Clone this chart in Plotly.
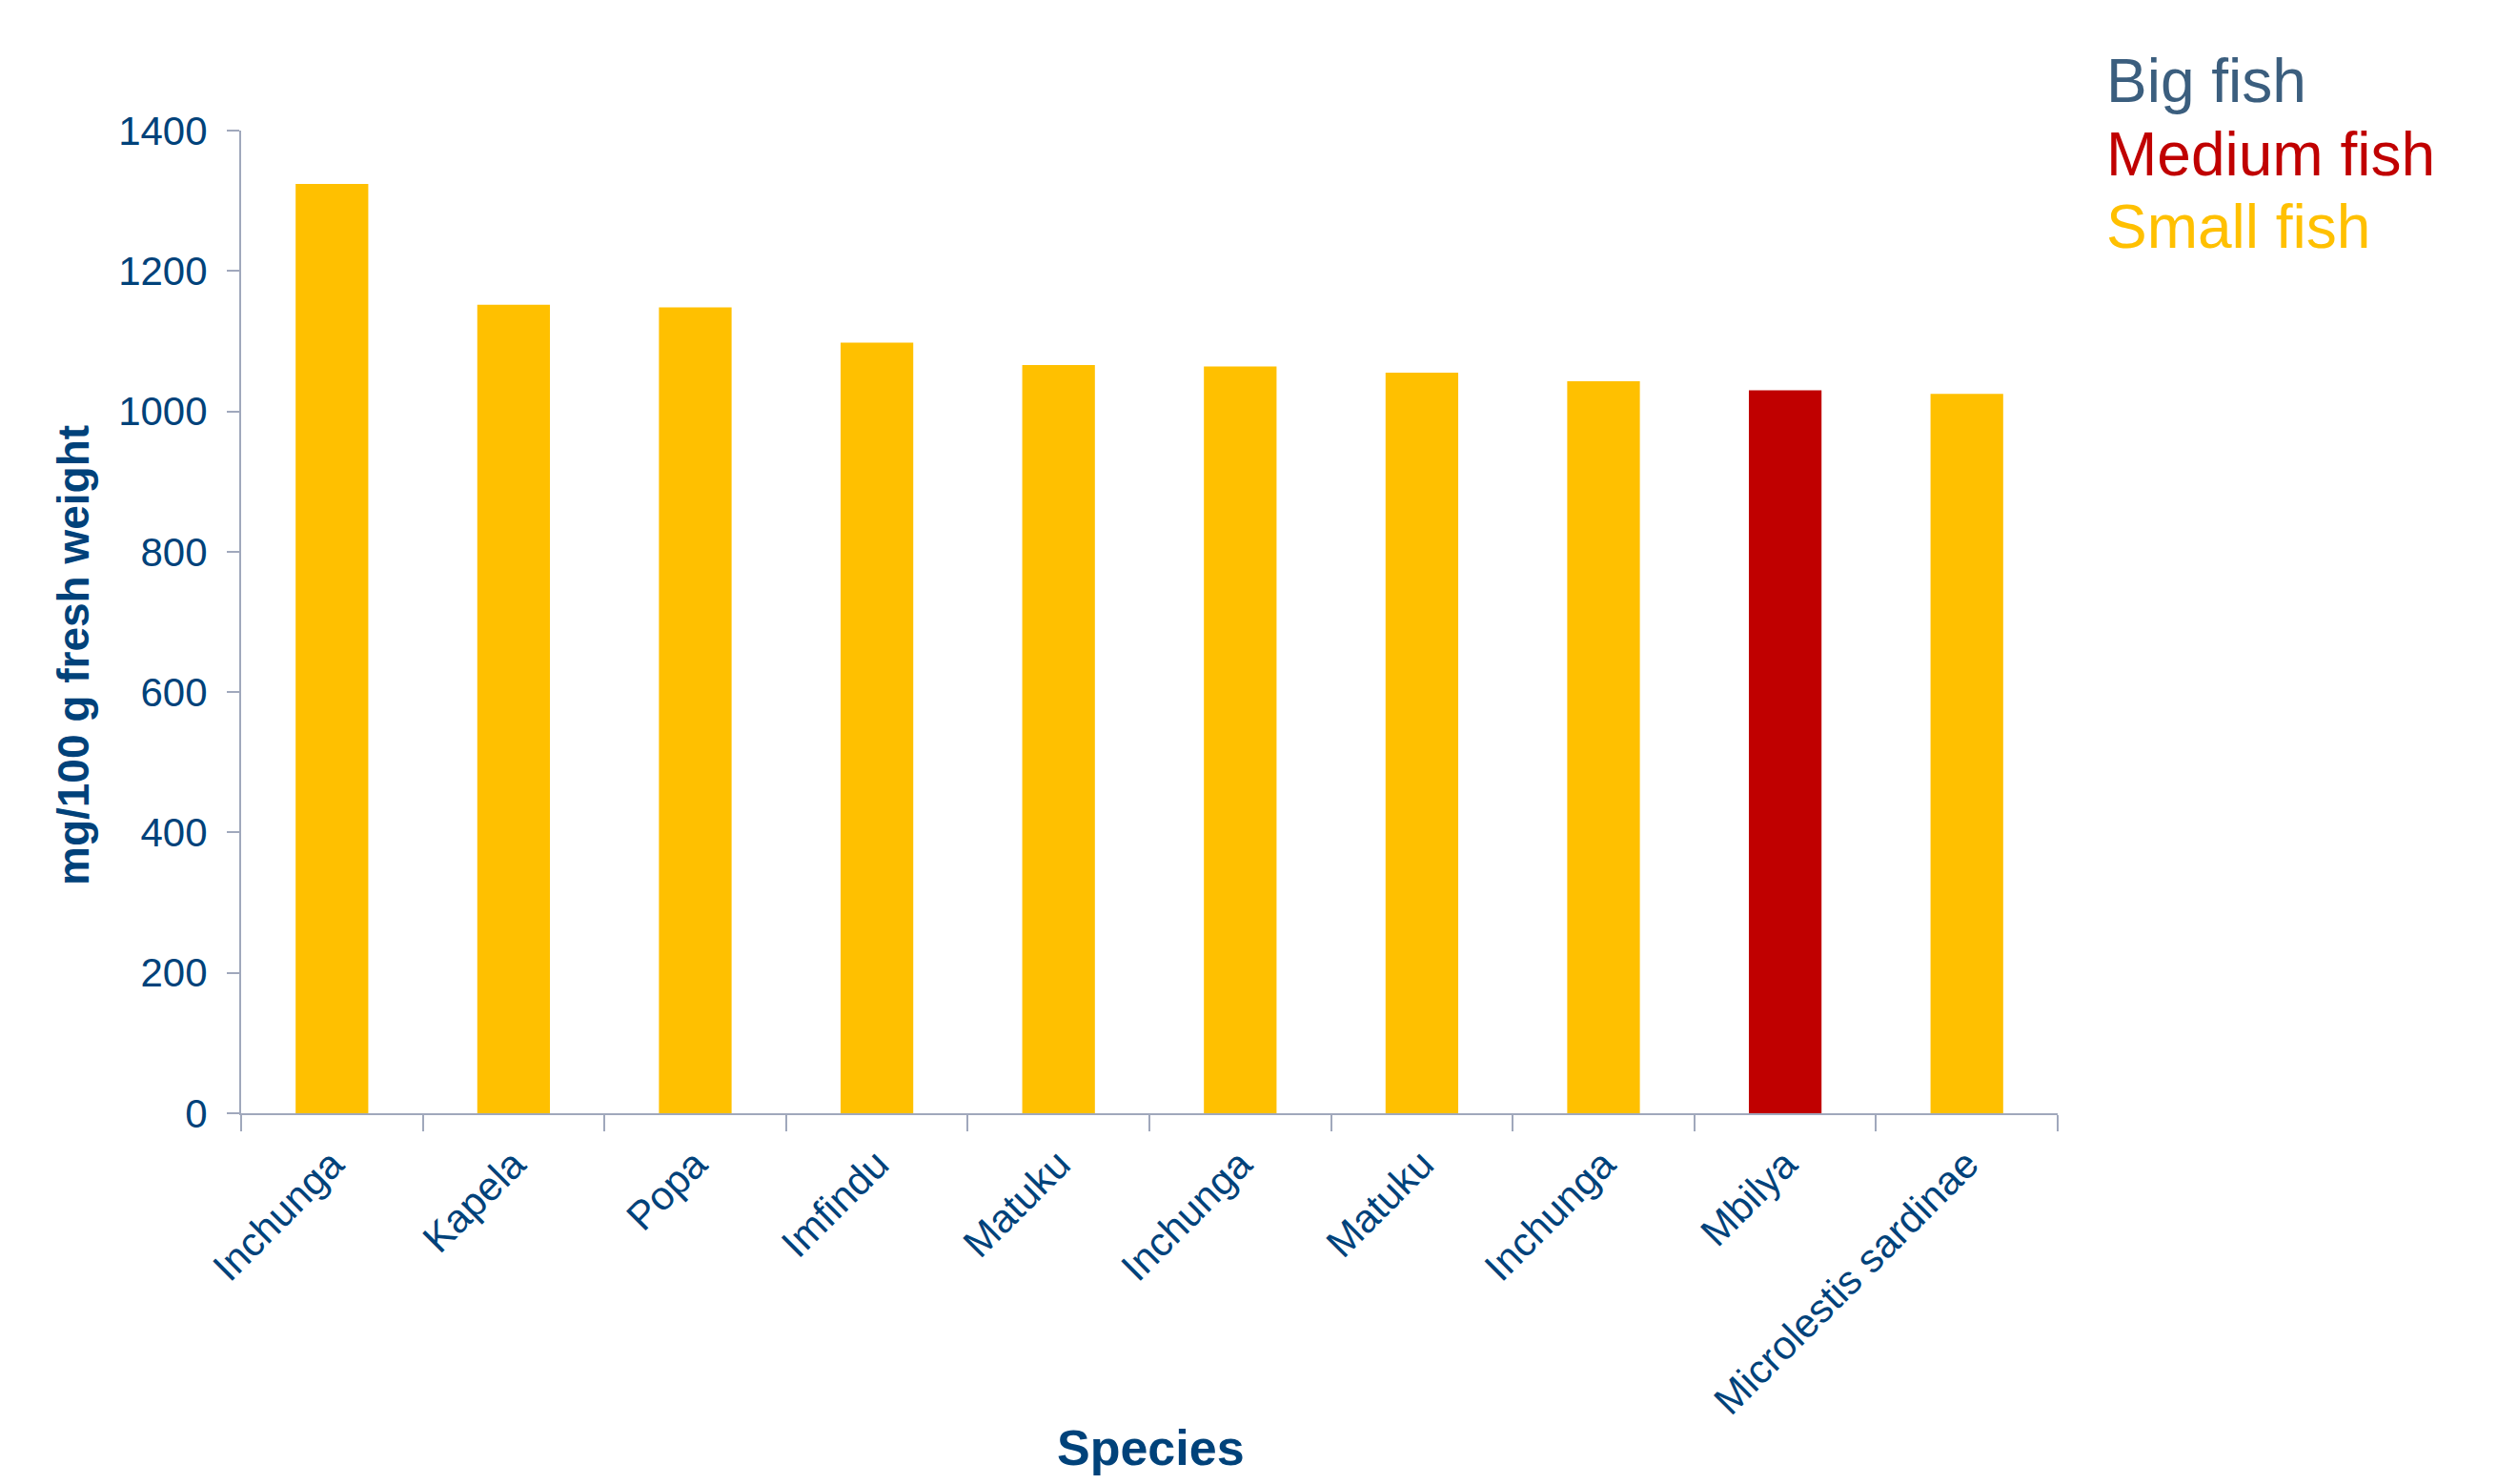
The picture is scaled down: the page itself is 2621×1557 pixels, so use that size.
import plotly.graph_objects as go

# ---- data ----
species = ["Inchunga", "Kapela", "Popa", "Imfindu", "Matuku",
           "Inchunga", "Matuku", "Inchunga", "Mbilya", "Microlestis sardinae"]
values = [1324, 1152, 1148, 1098, 1066, 1064, 1055, 1043, 1030, 1025]
size_group = ["Small", "Small", "Small", "Small", "Small",
              "Small", "Small", "Small", "Medium", "Small"]
legend_labels = ["Big fish", "Medium fish", "Small fish"]
group_colors = {"Big": "#3B5E7E", "Medium": "#C00000", "Small": "#FFC000"}
y_ticks = [0, 200, 400, 600, 800, 1000, 1200, 1400]

# ---- layout constants (pixels) ----
W, H = 2621, 1557
L, R = 253, 2159          # plot area left/right
T, B = 137, 1168          # plot area top/bottom
TEXT = "#00427A"
AXIS = "#A0A8BC"
FONT = "Liberation Sans, Arial, sans-serif"

def px_x(x):
    return (x - L) / (R - L)

def px_y(y):
    return (B - y) / (B - T)

# unique category ids for repeated names (zero-width space suffix)
seen = {}
cat_ids = []
for s in species:
    k = seen.get(s, 0)
    cat_ids.append(s + "\u200b" * k)
    seen[s] = k + 1

colors = [group_colors[g] for g in size_group]

fig = go.Figure(go.Bar(
    x=cat_ids, y=values, marker=dict(color=colors, line=dict(width=0)),
    width=0.4, showlegend=False,
))

fig.update_layout(
    width=W, height=H,
    margin=dict(l=L, r=W - R, t=T, b=H - B, pad=0),
    plot_bgcolor="white", paper_bgcolor="white",
    font=dict(family=FONT, color=TEXT),
    xaxis=dict(
        type="category", tickson="boundaries", ticks="outside", ticklen=17,
        tickwidth=2, tickcolor=AXIS, showline=True, linecolor=AXIS, linewidth=2,
        tickangle=-45, tickfont=dict(size=42, color=TEXT, family=FONT),
        ticklabelstandoff=10,
        showgrid=False, zeroline=False,
    ),
    yaxis=dict(
        range=[0, 1400], tickvals=y_ticks, ticks="outside", ticklen=13,
        tickwidth=2, tickcolor=AXIS, showline=True, linecolor=AXIS, linewidth=2,
        tickfont=dict(size=42, color=TEXT, family=FONT),
        ticklabelstandoff=12,
        showgrid=False, zeroline=False,
    ),
)

annotations = [
    dict(text="<b>mg/100 g fresh weight</b>", xref="paper", yref="paper",
         x=px_x(77), y=px_y(688), xanchor="center", yanchor="middle",
         textangle=-90, showarrow=False, font=dict(size=46, color=TEXT, family=FONT)),
    dict(text="<b>Species</b>", xref="paper", yref="paper",
         x=px_x(1207), y=px_y(1519), xanchor="center", yanchor="middle",
         showarrow=False, font=dict(size=52, color=TEXT, family=FONT)),
]
baselines = [104, 181, 257]
for lab, key, bl in zip(legend_labels, ["Big", "Medium", "Small"], baselines):
    annotations.append(dict(
        text=lab, xref="paper", yref="paper", x=px_x(2208), y=px_y(bl - 19),
        xanchor="left", yanchor="middle", showarrow=False,
        font=dict(size=64, color=group_colors[key], family=FONT)))
fig.update_layout(annotations=annotations)

fig.write_html("out.html")
